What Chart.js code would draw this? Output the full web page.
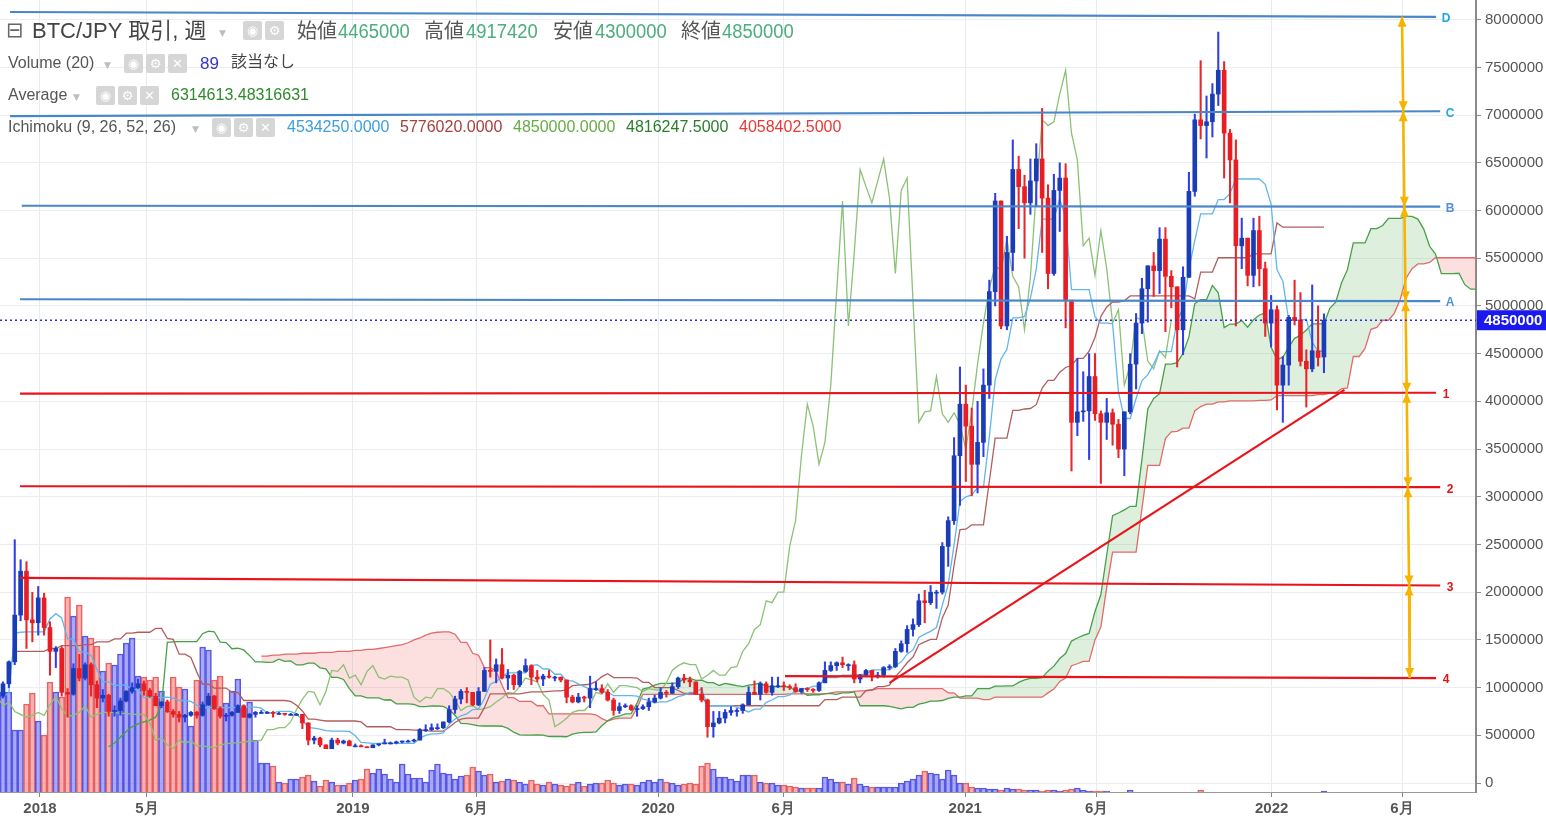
<!DOCTYPE html>
<html>
<head>
<meta charset="utf-8">
<script src="https://cdn.jsdelivr.net/npm/chart.js@4.4.1/dist/chart.umd.min.js"></script>
<style>
  html, body { margin: 0; padding: 0; background: #fff; overflow: hidden; }
  #wrap { position: relative; width: 1546px; height: 824px; }
  #chart { position: absolute; left: 0; top: 0; }
  .hd { position: absolute; white-space: nowrap; line-height: 1; font-family: 'Liberation Sans', 'Noto Sans CJK JP', sans-serif; }
  .num { transform: scaleX(0.92); transform-origin: left center; }
  .ic { position: absolute; width: 19px; height: 19px; background: #d6d6d6; border-radius: 2px; color: #fff;
        font: bold 13px 'DejaVu Sans', sans-serif; text-align: center; line-height: 19px; }
  .dd { position: absolute; font: 9px 'DejaVu Sans', sans-serif; color: #bdbdbd; }
</style>
</head>
<body>
<div id="wrap">
  <canvas id="chart" width="1546" height="824"></canvas>

  <!-- legend row 1 -->
  <div class="hd" style="left:6px;top:20px;font-size:21px;color:#666;font-family:'DejaVu Sans'">⊟</div>
  <div class="hd" style="left:32px;top:20px;font-size:22px;color:#444">BTC/JPY 取引, 週</div>
  <div class="dd" style="left:219px;top:28px">▼</div>
  <span class="ic" style="left:243px;top:21px">◉</span>
  <span class="ic" style="left:265px;top:21px">⚙</span>
  <div class="hd" style="left:297px;top:21px;font-size:20px;color:#555">始値</div>
  <div class="hd num" style="left:338px;top:21px;font-size:20px;color:#4cae7c">4465000</div>
  <div class="hd" style="left:424px;top:21px;font-size:20px;color:#555">高値</div>
  <div class="hd num" style="left:466px;top:21px;font-size:20px;color:#4cae7c">4917420</div>
  <div class="hd" style="left:553px;top:21px;font-size:20px;color:#555">安値</div>
  <div class="hd num" style="left:595px;top:21px;font-size:20px;color:#4cae7c">4300000</div>
  <div class="hd" style="left:681px;top:21px;font-size:20px;color:#555">終値</div>
  <div class="hd num" style="left:722px;top:21px;font-size:20px;color:#4cae7c">4850000</div>

  <!-- legend row 2 -->
  <div class="hd" style="left:8px;top:55px;font-size:16px;color:#555">Volume (20)</div>
  <div class="dd" style="left:104px;top:60px">▼</div>
  <span class="ic" style="left:124px;top:54px">◉</span>
  <span class="ic" style="left:146px;top:54px">⚙</span>
  <span class="ic" style="left:168px;top:54px">✕</span>
  <div class="hd" style="left:200px;top:55px;font-size:17px;color:#3434d2">89</div>
  <div class="hd" style="left:231px;top:54px;font-size:16px;color:#444">該当なし</div>

  <!-- legend row 3 -->
  <div class="hd" style="left:8px;top:87px;font-size:16px;color:#555">Average</div>
  <div class="dd" style="left:73px;top:92px">▼</div>
  <span class="ic" style="left:96px;top:86px">◉</span>
  <span class="ic" style="left:118px;top:86px">⚙</span>
  <span class="ic" style="left:140px;top:86px">✕</span>
  <div class="hd" style="left:171px;top:87px;font-size:16px;color:#2b8a2b">6314613.48316631</div>

  <!-- legend row 4 -->
  <div class="hd" style="left:8px;top:119px;font-size:16px;color:#555">Ichimoku (9, 26, 52, 26)</div>
  <div class="dd" style="left:192px;top:124px">▼</div>
  <span class="ic" style="left:212px;top:118px">◉</span>
  <span class="ic" style="left:234px;top:118px">⚙</span>
  <span class="ic" style="left:256px;top:118px">✕</span>
  <div class="hd" style="left:287px;top:119px;font-size:16px;color:#3a9fe0">4534250.0000</div>
  <div class="hd" style="left:400px;top:119px;font-size:16px;color:#a5403d">5776020.0000</div>
  <div class="hd" style="left:513px;top:119px;font-size:16px;color:#68aa45">4850000.0000</div>
  <div class="hd" style="left:626px;top:119px;font-size:16px;color:#2a7d2a">4816247.5000</div>
  <div class="hd" style="left:739px;top:119px;font-size:16px;color:#e53935">4058402.5000</div>
</div>

<script>
// Weekly BTC/JPY candles, week 0 = 2017-11-20, last week = 2022-03-14.
// Prices are in units of 10,000 JPY.
const opens = [
  91,104,127,176,222,171,168,194,163,138,
  141,95,93,120,110,124,103,89,92,75,
  76,86,96,100,104,97,91,81,85,75,
  72,69,71,74,71,82,91,78,70,71,
  74,81,69,72,74,74,74,73,73,72,
  72,72,63,45,47,40,36,45,42,44,
  39,39,38,37,40,41,42,42,43,44,
  44,45,56,56,58,58,64,77,88,96,
  95,82,96,118,117,124,110,113,103,117,
  123,111,109,112,111,111,108,90,85,90,
  89,99,99,95,87,76,80,81,77,78,
  80,85,89,95,94,101,110,108,106,93,
  87,59,63,68,74,76,76,82,95,93,
  104,95,102,102,101,100,96,99,98,97,
  105,118,123,126,124,124,109,113,118,113,
  113,121,122,138,146,161,166,191,189,200,
  200,248,275,343,397,374,334,357,417,515,
  610,479,556,643,625,608,631,654,613,534,
  621,634,506,378,389,390,426,387,378,388,
  376,350,389,439,482,518,542,537,570,531,
  520,475,530,620,695,689,693,722,747,681,
  653,563,571,532,579,539,482,496,417,438,
  488,485,442,434,453,446.5
];
const highs = [
  106,128,255,234,232,200,206,199,169,143,
  143,99,125,135,126,126,107,98,93,81,
  89,97,105,109,107,99,94,85,87,77,
  75,72,75,75,85,94,92,80,73,75,
  82,82,73,75,76,75,75,74,73,73,
  73,72,63,49,48,40,47,47,45,45,
  41,40,38,40,41,46,43,44,44,45,
  46,57,61,62,62,64,81,91,98,100,
  95,100,121,150,130,141,119,114,118,130,
  124,118,114,118,112,111,108,92,94,91,
  112,106,103,98,89,84,83,82,81,82,
  89,92,100,97,105,111,114,111,106,100,
  88,75,75,77,80,78,83,101,107,106,
  106,111,111,106,103,104,99,100,99,106,
  127,127,127,132,125,128,114,119,118,116,
  122,124,141,149,165,172,198,202,207,202,
  252,279,362,436,417,393,400,434,527,618,
  610,573,674,657,637,654,670,707,627,638,
  650,649,506,445,431,450,450,390,403,392,
  381,389,450,492,529,542,556,582,582,537,
  520,541,640,701,757,720,733,787,756,685,
  674,592,571,592,594,546,511,500,447,490,
  527,514,454,522,500,491.742
];
const lows = [
  89,100,124,170,141,148,155,155,113,121,
  91,69,92,107,108,91,79,85,70,70,
  71,85,94,99,92,90,81,79,74,69,
  64,64,70,68,70,81,77,68,65,70,
  74,69,68,69,73,73,69,72,71,71,
  71,57,40,41,38,36,36,40,41,39,
  38,38,37,37,39,41,41,41,42,43,
  43,45,54,55,56,57,63,73,83,84,
  81,81,96,111,105,109,98,98,101,116,
  103,106,102,110,107,106,84,84,84,85,
  79,97,94,86,71,73,79,76,70,77,
  76,84,88,90,94,99,105,101,93,85,
  48,48,62,63,71,70,73,82,93,87,
  94,92,100,97,98,95,94,96,95,96,
  105,117,118,121,118,105,105,112,107,110,
  111,119,121,137,137,154,164,168,187,183,
  198,227,271,291,316,301,304,342,403,500,
  476,475,537,581,550,596,605,556,518,532,
  578,477,327,364,379,339,380,314,360,354,
  341,322,387,413,471,483,510,513,473,498,
  436,449,530,615,675,655,677,710,634,608,
  479,539,521,520,521,468,457,391,378,417,
  480,437,394,431,437,430
];
const closes = [
  104,127,176,222,171,168,194,163,138,141,
  95,93,120,110,124,103,89,92,75,76,
  86,96,100,104,97,91,81,85,75,72,
  69,71,74,71,82,91,78,70,71,74,
  81,69,72,74,74,74,73,73,72,72,
  72,63,45,47,40,36,45,42,44,39,
  39,38,37,40,41,42,42,43,44,44,
  45,56,56,58,58,64,77,88,96,95,
  82,96,118,117,124,110,113,103,117,123,
  111,109,112,111,111,108,90,85,90,89,
  99,99,95,87,76,80,81,77,78,80,
  85,89,95,94,101,110,108,106,93,87,
  59,63,68,74,76,76,82,95,93,104,
  95,102,102,101,100,96,99,98,97,105,
  118,123,126,124,124,109,113,118,113,113,
  121,122,138,146,161,166,191,189,200,200,
  248,275,343,397,374,334,357,417,515,610,
  479,556,643,625,608,631,654,613,534,621,
  634,506,378,389,390,426,387,378,388,376,
  350,389,439,482,518,542,537,570,531,520,
  475,530,620,695,689,693,722,747,681,653,
  563,571,532,579,539,482,496,417,438,488,
  485,442,434,453,446,485
];
// weekly volume (read as bar heights)
const volumes = [
  10000,10000,6200,6200,8800,9900,7100,5700,11000,10000,
  9500,19500,17600,18700,15600,15400,14600,12100,12900,12700,
  13800,14900,15400,11600,11500,11200,11500,10100,8100,11500,
  10500,10300,6600,11200,14500,14200,11200,11600,8900,10100,
  11300,8400,9000,5200,2900,2900,2600,1000,900,1300,
  1300,1500,1700,1100,600,1200,1000,700,700,900,
  1200,1300,2300,1900,2300,1800,1300,1000,2800,1800,
  1400,1400,1000,2200,2800,1900,1800,1300,1600,1700,
  2500,2100,1700,1800,1000,1100,1300,1200,1000,800,
  1200,800,700,1000,800,700,600,800,1000,600,
  800,900,900,1200,900,700,800,800,700,1000,
  1200,1000,1300,1000,900,700,800,900,800,2600,
  2900,2300,1500,1500,1300,1100,1700,1700,1700,1000,
  900,900,700,700,600,500,400,400,400,400,
  1500,1300,1000,1000,800,1400,800,600,500,500,
  500,500,500,900,1100,1300,1700,2100,1900,1800,
  1300,2200,1700,900,900,500,400,400,300,300,
  200,400,300,300,200,200,200,100,200,200,
  100,200,300,400,200,100,100,100,100,0,
  0,0,200,0,0,0,0,0,0,0,
  0,0,0,0,200,0,0,0,0,0,
  0,0,0,0,0,0,0,0,0,0,
  0,0,0,0,0,89
];

// Ichimoku (9, 26, 52, 26) lines
const tenkan = [
  90,95,157,158,158.5,158.5,158.5,158.5,172,177.5,
  173,151.5,150.5,137.5,137.5,134,119,106,106,102,
  102.5,102.5,98,98,89.5,89.5,89.5,89.5,90,89,
  86.5,86.5,85.5,81.5,79,79,79,79,79,79,
  79.5,79.5,79.5,79.5,78.5,73.5,73.5,75,75,75,
  72,66.5,58,57.5,56.5,55,54.5,54.5,54.5,54,
  49.5,42.5,42,41.5,41.5,42,41.5,41.5,41.5,41.5,
  41.5,47,50,51.5,51.5,52.5,61.5,67,70.5,72.5,
  77,77.5,88.5,103.5,106.5,111.5,115.5,115.5,115.5,115.5,
  123,124,119.5,119.5,114,114,107,107,104,101,
  98.5,98.5,95.5,95.5,91.5,91.5,91.5,91.5,91,88,
  86.5,84,85,85,87.5,90.5,92,95,95,99,
  81,81,81,81,81,79.5,77,74.5,77.5,77.5,
  84.5,87,90.5,90.5,92,96.5,99,99,101.5,101.5,
  110.5,110.5,110.5,113,113,113.5,113.5,114,118.5,118.5,
  118.5,118.5,123,127,135,139.5,152.5,156,159,163,
  186.5,208,249.5,295,300,302,309.5,309.5,362.5,422.5,
  444.5,454.5,487.5,487.5,489,508,538.5,591,591,591,
  612.5,592,517,517,517,517,488.5,482,482,481.5,
  410,382,382,403,421.5,428,439,452,452,452,
  484.5,497.5,538,568.5,596.5,596.5,596.5,611.5,611.5,618,
  633,633,633,633,633,627.5,606.5,538,526,485,
  485,485,486,462,452.5,452.5
];
const kijun = [
  null,null,138,138,138,138,138,138,141,141,
  144,144,144,144,145,145,148,148,148,151,
  151,157,157,158,158,158,162,162,151.5,150.5,
  135,135,131.5,116.5,103.5,103.5,99.5,99.5,99.5,95,
  95,86.5,86.5,86.5,86.5,86.5,86.5,86.5,86.5,85.5,
  81.5,75.5,67,67,66,65,65,65,65,65,
  65,64,59,59,59,59,59,56,56,56,
  55.5,55.5,55,54.5,54.5,54.5,58.5,63.5,67,68,
  68,68,79,93.5,93.5,93.5,93.5,93.5,93.5,94.5,
  95.5,95.5,95.5,96,96.5,96.5,97.5,102,102.5,103,
  103.5,106.5,111.5,114.5,110.5,110.5,110.5,110.5,110,105.5,
  105.5,100,100,100,100,97,94,94,94,92,
  81,81,81,81,81,81,81,81,81,81,
  81,81,81,81,81,81,81,81,81,81,
  87.5,87.5,87.5,90,90,90,90,97,97.5,101,
  101,102.5,111.5,118,126,132,145,148,150.5,150.5,
  173,186.5,228.5,265.5,266,270.5,270.5,270.5,316,361.5,
  361.5,361.5,390.5,390.5,392,392.5,396.5,414,422,422,
  430.5,435.5,437.5,445,445,452.5,467,489,499,504,
  504,505.5,510.5,510.5,510.5,510.5,510.5,510.5,510.5,510.5,
  510.5,510.5,510.5,507.5,535.5,535.5,535.5,550.5,550.5,550.5,
  550.5,550.5,550.5,554.5,554.5,554.5,554.5,587,582.5,582.5,
  582.5,582.5,582.5,582.5,582.5,582.5
];
// leading spans, indexed by plotted week (they run 26 weeks past the last candle)
const senkouA = [
  null,null,null,null,null,null,null,null,null,null,
  null,null,null,null,null,null,null,null,
  38,42,48,54,59,62,64,66,69,81,
  147.5,148,148.25,148.25,148.25,148.25,156.5,159.25,158.5,147.75,
  147.25,140.75,141.25,139.5,133.5,127,127,126.5,126.75,129.75,
  127.5,128,123.75,123.75,125.75,125.75,120.75,119.75,110.75,110.75,
  108.5,99,91.25,91.25,89.25,89.25,89.25,87,87.25,83,
  83,83,82.5,80,80,80.75,80.75,80.25,76.75,71,
  62.5,62.25,61.25,60,59.75,59.75,59.75,59.5,57.25,53.25,
  50.5,50.25,50.25,50.5,50.25,48.75,48.75,48.75,48.5,51.25,
  52.5,53,53,53.5,60,65.25,68.75,70.25,72.5,72.75,
  83.75,98.5,100,102.5,104.5,104.5,104.5,105,109.25,109.75,
  107.5,107.75,105.25,105.25,102.25,104.5,103.25,102,101,102.5,
  103.5,105,101,101,101,101,100.5,96.75,96,92,
  92.5,92.5,93.75,93.75,93,94.5,94.5,95.5,81,81,
  81,81,81,80.25,79,77.75,79.25,79.25,82.75,84,
  85.75,85.75,86.5,88.75,90,90,91.25,91.25,99,99,
  99,101.5,101.5,101.75,101.75,105.5,108,109.75,109.75,110.5,
  117.25,122.5,130.5,135.75,148.75,152,154.75,156.75,179.75,197.25,
  239,280.25,283,286.25,290,290,339.25,392,403,408,
  439,439,440.5,450.25,467.5,502.5,506.5,506.5,521.5,513.75,
  477.25,481,481,484.75,477.75,485.5,490.5,492.75,457,443.75,
  446.25,456.75,466,469.25,474.75,481.25,481.25,481.25,497.5,504,
  524.25,538,566,566,566,581,581,584.25,591.75,591.75,
  591.75,593.75,593.75,591,580.5,562.5,554.25,533.75,533.75,533.75,
  534.25,522.25,517.5,517.5
];
const senkouB = [
  null,null,null,null,null,null,null,null,null,null,
  null,null,null,null,null,null,null,null,null,null,
  null,null,null,null,null,null,null,null,null,null,
  null,null,null,null,null,null,null,null,null,null,
  null,null,null,null,
  133,133,134,134,135,135,135,136,136,136,
  137,137,137,138,138,138,139,139,140,140,
  141,142,143,144,145,147,150,152,155,157,
  158,158.5,158.5,156,147.5,147.5,136,134,121,121,
  117.5,102.5,89.5,89.5,85.5,85.5,85.5,81,81,72.5,
  72.5,72.5,72.5,72.5,72.5,72.5,72.5,71.5,67.5,65,
  67,68,68,68,78.5,93,93,93,93,93,
  93,93,93,93,93,93,93,93,93,93,
  93,93,93,93,93,93,93,93,93,93,
  93.5,93.5,93.5,93.5,93.5,93.5,93.5,94.5,95.5,95.5,
  95.5,96,96.5,96.5,97.5,99,99,99,99,99,
  99,99,99,99,99,99,99,94.5,94.5,89,
  89,89,89,87.5,87.5,90,90,90,90,90,
  90,90,90,90,94.5,98.5,106.5,110,123,125,
  127.5,127.5,150,163.5,205,242,242,242,242,242,
  287.5,333,333,333,361,368,368.5,372,372,390,
  394.5,397,397,399.5,399.5,400.5,400.5,400.5,400.5,400.5,
  401,401,401.5,406,406,406,406,406,406,406,
  407,407,408.5,409,413,414,447,447,455.5,475.5,
  477.5,485,485,492.5,507,529,539,544,544,545.5,
  550.5,550.5,550.5,550.5,550.5,550.5,550.5,550.5
];
const lagWeeks = 26; // lagging span = closes drawn 26 weeks back

// axis ticks
const tickWeeks = [6.3, 24.5, 59.6, 80.7, 111.6, 132.9, 163.9, 186.3, 216.1, 238.3];
const tickLabels = ['2018', '5月', '2019', '6月', '2020', '6月', '2021', '6月', '2022', '6月'];
const priceTicks = [0,50,100,150,200,250,300,350,400,450,500,550,600,650,700,750,800];

// drawn levels: name, start week/price, end week/price
const levelNames = ['D', 'C', 'B', 'A', '1', '2', '3', '4'];
const levelFromWeek = [1.2, 1.2, 3.2, 2.9, 2.9, 2.9, 2.9, 133.2];
const levelToWeek = [244.1, 244.8, 244.8, 244.8, 244.1, 244.8, 244.8, 244.1];
const levelFromPrice = [808, 699, 605, 507, 408, 311, 215, 112];
const levelToPrice = [803, 704, 604, 505, 409, 310, 207, 110];
const trendWeeks = [151, 228.5];
const trendPrices = [105, 412];
const arrowWeeks = [238.3, 238.5, 238.7, 238.9, 239.1, 239.3, 239.5, 239.6];

const lastClose = closes[closes.length - 1];
const xMin = -0.51, xMax = 250.9;

const up = closes.map((c, i) => c >= opens[i]);
const xy = (arr, shift) => arr.map((v, i) => (v === null ? null : { x: i + shift, y: v })).filter(p => p !== null);
const lineDs = (data, color, width, order, extra) => Object.assign({
  type: 'line', data, borderColor: color, borderWidth: width, pointRadius: 0, pointHoverRadius: 0,
  tension: 0, fill: false, order, yAxisID: 'y'
}, extra || {});

const levelLine = ['#4a86c8', '#4a86c8', '#4a86c8', '#4a86c8', '#e8141c', '#e8141c', '#e8141c', '#e8141c'];
const levelText = ['#22a7dd', '#22a7dd', '#5591d2', '#5591d2', '#e01414', '#e01414', '#e01414', '#e01414'];

const datasets = [
  { type: 'bar', yAxisID: 'yVol', order: 20, grouped: false,
    data: volumes.map((v, i) => ({ x: i, y: v })),
    backgroundColor: up.map(u => u ? 'rgba(98,98,238,0.55)' : 'rgba(242,112,112,0.55)'),
    borderColor: up.map(u => u ? 'rgba(78,78,226,0.95)' : 'rgba(228,88,88,0.95)'),
    borderWidth: 1, barPercentage: 1, categoryPercentage: 1 },
  lineDs(xy(senkouB, 0), '#e46a6a', 1.3, 12),
  lineDs(xy(senkouA.map((v, p) => (senkouB[p] === null ? null : v)), 0), 'rgba(0,0,0,0)', 0, 13,
    { fill: { target: 1, above: 'rgba(90,175,90,0.2)', below: 'rgba(240,110,110,0.22)' } }),
  lineDs(xy(senkouA, 0), '#46a046', 1.3, 11),
  lineDs(xy(closes, -lagWeeks), '#8cc176', 1.3, 10),
  lineDs(xy(kijun, 0), '#b25e5e', 1.3, 9),
  lineDs(xy(tenkan, 0), '#62b6ea', 1.3, 8),
  { type: 'bar', order: 6, grouped: false, barThickness: 1.4,
    data: highs.map((h, i) => ({ x: i, y: [lows[i], h] })),
    backgroundColor: up.map(u => u ? '#2f3ee6' : '#e8262a') },
  { type: 'bar', order: 5, grouped: false, barThickness: 4, minBarLength: 1,
    data: opens.map((o, i) => ({ x: i, y: [o, closes[i]] })),
    backgroundColor: up.map(u => u ? '#1a3cb4' : '#e81e24') }
];
levelNames.forEach((n, k) => {
  datasets.push(lineDs([{ x: levelFromWeek[k], y: levelFromPrice[k] }, { x: levelToWeek[k], y: levelToPrice[k] }],
    levelLine[k], 2.2, 3));
});
datasets.push(lineDs([{ x: trendWeeks[0], y: trendPrices[0] }, { x: trendWeeks[1], y: trendPrices[1] }], '#e8141c', 2.2, 3));
datasets.push(lineDs(arrowWeeks.map((w, k) => ({ x: w, y: levelToPrice[k] })), '#f6b400', 2.6, 2));
datasets.push(lineDs([{ x: xMin, y: lastClose }, { x: xMax, y: lastClose }], '#2c2ce0', 1.5, 1, { borderDash: [2, 3] }));

function arrowHead(ctx, px, py, dir) {
  ctx.beginPath();
  ctx.moveTo(px, py);
  ctx.lineTo(px - 4.5, py + dir * 10);
  ctx.lineTo(px + 4.5, py + dir * 10);
  ctx.closePath();
  ctx.fill();
}

const overlay = {
  id: 'overlay',
  afterDatasetsDraw(chart) {
    const { ctx, scales: { x, y } } = chart;
    ctx.save();
    ctx.fillStyle = '#f6b400';
    arrowWeeks.forEach((w, k) => {
      const px = x.getPixelForValue(w), py = y.getPixelForValue(levelToPrice[k]);
      if (k > 0) arrowHead(ctx, px, py, -1);
      if (k < arrowWeeks.length - 1) arrowHead(ctx, px, py, 1);
    });
    ctx.font = 'bold 12px "Liberation Sans"';
    ctx.textAlign = 'center';
    ctx.textBaseline = 'middle';
    levelNames.forEach((n, k) => {
      ctx.fillStyle = levelText[k];
      ctx.fillText(n, x.getPixelForValue(levelToWeek[k]) + 10, y.getPixelForValue(levelToPrice[k]) + 2);
    });
    ctx.restore();
  },
  afterDraw(chart) {
    const { ctx, chartArea, scales: { y } } = chart;
    const py = y.getPixelForValue(lastClose);
    ctx.save();
    ctx.fillStyle = '#1a1aee';
    ctx.fillRect(chartArea.right + 1, py - 10, 70, 20);
    ctx.fillStyle = '#fff';
    ctx.font = 'bold 15px "Liberation Sans"';
    ctx.textBaseline = 'middle';
    ctx.fillText(String(Math.round(lastClose * 10000)), chartArea.right + 8, py + 1);
    ctx.restore();
  }
};

new Chart(document.getElementById('chart'), {
  type: 'line',
  data: { datasets },
  plugins: [overlay],
  options: {
    responsive: false, animation: false, devicePixelRatio: 1, events: [],
    layout: { padding: 0 },
    plugins: { legend: { display: false }, tooltip: { enabled: false } },
    scales: {
      x: {
        type: 'linear', min: xMin, max: xMax, offset: false, position: 'bottom',
        grid: { color: '#e6ecf1', offset: false, tickLength: 5, tickColor: '#8a8a8a' },
        border: { color: '#9a9a9a', width: 1 },
        ticks: { autoSkip: false, maxRotation: 0, padding: 3, color: '#555',
          font: { family: 'Liberation Sans', size: 15, weight: 'bold' },
          callback: (v, i) => tickLabels[i] },
        afterBuildTicks: s => { s.ticks = tickWeeks.map(v => ({ value: v })); },
        afterFit: s => { s.height = 32; s.paddingLeft = 0; s.paddingRight = 0; }
      },
      y: {
        type: 'linear', position: 'right', min: -9.4, max: 820.6,
        grid: { color: '#e9eef3', tickLength: 5, tickColor: '#8a8a8a' },
        border: { color: '#8a8a8a', width: 2 },
        ticks: { padding: 4, color: '#555', font: { family: 'Liberation Sans', size: 15 },
          callback: v => String(Math.round(v * 10000)) },
        afterBuildTicks: s => { s.ticks = priceTicks.map(v => ({ value: v })); },
        afterFit: s => { s.width = 70; s.paddingTop = 0; s.paddingBottom = 0; }
      },
      yVol: { type: 'linear', display: false, min: 0, max: 79200 }
    }
  }
});
</script>
</body>
</html>
